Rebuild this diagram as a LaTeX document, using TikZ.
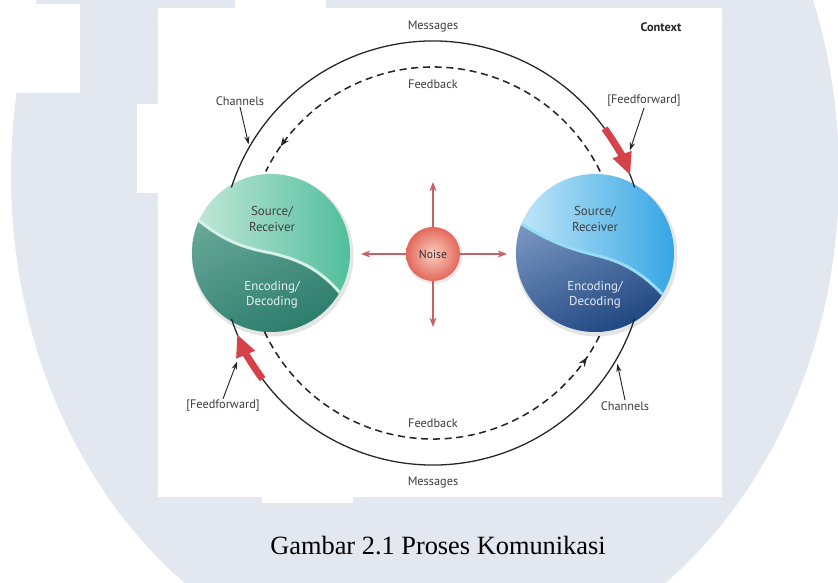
\documentclass[tikz,border=0pt]{standalone}
\usepackage{fontspec}
\setmainfont{Liberation Serif}
\newfontfamily\lblfont{PT Sans}
\usetikzlibrary{arrows.meta,decorations.markings,positioning}

\definecolor{wmgray}{RGB}{227,231,240}
\definecolor{lbltext}{RGB}{60,60,60}
\definecolor{ffred}{RGB}{214,66,74}
\definecolor{noisered}{RGB}{200,96,102}
\definecolor{noiselite}{RGB}{252,206,192}
\definecolor{noisedark}{RGB}{226,104,90}
% green sphere
\definecolor{gnupa}{RGB}{196,232,218}
\definecolor{gnupb}{RGB}{80,190,155}
\definecolor{gnloa}{RGB}{104,168,152}
\definecolor{gnlob}{RGB}{38,120,104}
\definecolor{gnband}{RGB}{214,242,232}
% blue sphere
\definecolor{blupa}{RGB}{196,232,249}
\definecolor{blupb}{RGB}{52,166,228}
\definecolor{bloa}{RGB}{118,148,190}
\definecolor{blob}{RGB}{22,62,122}
\definecolor{blband}{RGB}{150,220,245}

\tikzset{
  lbl/.style={font=\lblfont\fontsize{10.5}{12}\selectfont, text=lbltext, inner sep=1pt},
  ctx/.style={font=\lblfont\bfseries\fontsize{10.5}{12}\selectfont, text=black!85, inner sep=1pt},
  spheretxt/.style={font=\lblfont\fontsize{11}{13}\selectfont, align=center, inner sep=1pt},
  msgline/.style={line width=1.1pt, black!85},
  fbline/.style={line width=1.3pt, black!85, dash pattern=on 6pt off 4pt,
    postaction={decorate}, decoration={markings,
      mark=at position 0.93 with {\arrow{Stealth[length=8pt,width=6pt]}}}},
  ffarrow/.style={line width=6pt, ffred, -{Triangle[length=19pt,width=16pt]}},
  ptr/.style={line width=0.8pt, black!85, -{Stealth[length=7pt,width=4.5pt]}},
  noisearrow/.style={line width=0.9pt, noisered, -{Stealth[length=8pt,width=6pt]}},
}

\begin{document}
\begin{tikzpicture}[x=0.03cm, y=0.03cm]
% page, watermark and the white picture area
\useasboundingbox (0,0) rectangle (838,582);
\begin{scope}
  \clip (0,0) rectangle (838,582);
  \fill[white] (0,0) rectangle (838,582);
  \fill[wmgray] (425,407) ellipse[x radius=414, y radius=501];
  \fill[white] (0,489) rectangle (80,578);
  \fill[white] (235,574) rectangle (326,582);
  \fill[white] (137,389) rectangle (158,478);
  \fill[white] (262,79) rectangle (353,85);
  \fill[white] (158,85) rectangle (722,574);
\end{scope}

\coordinate (O) at (433,329);

% left sphere
\begin{scope}[shift={(271,329)}]
  \fill[black, opacity=.10] (1.5,-2.5) circle[radius=81];
  \begin{scope}
    \clip (0,0) circle[radius=79];
    \shade[left color=gnupa, right color=gnupb] (-80,-80) rectangle (80,80);
    \shade[top color=gnloa, bottom color=gnlob, shading angle=25] (-90,48) .. controls (-50,10) and (-25,5) .. (0,0) .. controls (25,-6) and (55,-15) .. (82,-58) -- (90,-90) -- (-90,-90) -- cycle;
    \draw[gnband, line width=2.5pt] (-90,48) .. controls (-50,10) and (-25,5) .. (0,0) .. controls (25,-6) and (55,-15) .. (82,-58);
  \end{scope}
\end{scope}
\node[circle, minimum size=4.74cm] (lsph) at (271,329) {};

% right sphere
\begin{scope}[shift={(595,329)}]
  \fill[black, opacity=.10] (1.5,-2.5) circle[radius=81];
  \begin{scope}
    \clip (0,0) circle[radius=79];
    \shade[left color=blupa, right color=blupb] (-80,-80) rectangle (80,80);
    \shade[top color=bloa, bottom color=blob, shading angle=25] (-90,40) .. controls (-50,12) and (-25,4) .. (0,-2) .. controls (25,-8) and (50,-18) .. (80,-56) -- (90,-90) -- (-90,-90) -- cycle;
    \draw[blband, line width=2.5pt] (-90,40) .. controls (-50,12) and (-25,4) .. (0,-2) .. controls (25,-8) and (50,-18) .. (80,-56);
  \end{scope}
\end{scope}
\node[circle, minimum size=4.74cm] (rsph) at (595,329) {};

\node[spheretxt, text=black!75] (lsrc) at (272,363) {Source/\\Receiver};
\node[spheretxt, text=white!85!gnloa] (lenc) at (272,287) {Encoding/\\Decoding};
\node[spheretxt, text=black!75] (rsrc) at (595,363) {Source/\\Receiver};
\node[spheretxt, text=white!80!bloa] (renc) at (595,287) {Encoding/\\Decoding};

% noise and its arrows
\fill[black, opacity=.08] (434,326.5) circle[radius=28.5];
\node[circle, inner color=noiselite, outer color=noisedark, minimum size=1.62cm, inner sep=0pt,
  font=\lblfont\fontsize{10}{12}\selectfont, text=black!80] (noise) at (433,328) {Noise};
\coordinate (nup) at (433,400);
\coordinate (ndown) at (433,255);
\coordinate (nleft) at (361,328);
\coordinate (nright) at (507,328);
\draw[noisearrow] (noise.north) -- (nup);
\draw[noisearrow] (noise.south) -- (ndown);
\draw[noisearrow] (noise.west) -- (nleft);
\draw[noisearrow] (noise.east) -- (nright);

% messages and feedback
\draw[msgline] ([shift={(162:212)}]O) arc[start angle=162, end angle=18, radius=212];
\draw[msgline] ([shift={(198:212)}]O) arc[start angle=198, end angle=342, radius=212];
\draw[fbline] ([shift={(26:186)}]O) arc[start angle=26, end angle=154, radius=186];
\draw[fbline] ([shift={(205:186)}]O) arc[start angle=205, end angle=335, radius=186];

% feedforward
\draw[ffarrow] ([shift={(36:212)}]O) arc[start angle=36, end angle=21.5, radius=212];
\draw[ffarrow] ([shift={(216.5:212)}]O) arc[start angle=216.5, end angle=202.5, radius=212];

% labels
\node[lbl] (msgtop) at (433,555) {Messages};
\node[ctx] (ctx) at (661,555) {Context};
\node[lbl] (fbtop) at (433,498) {Feedback};
\node[lbl] (chtl) at (240,481) {Channels};
\node[lbl] (fftr) at (644,481) {[Feedforward]};
\node[lbl] (ffbl) at (223,176) {[Feedforward]};
\node[lbl] (chbr) at (625,176) {Channels};
\node[lbl] (fbbot) at (433,159) {Feedback};
\node[lbl] (msgbot) at (433,100) {Messages};

\coordinate (chtlpt) at ([shift={(149.5:214)}]O);
\coordinate (fftrpt) at ([shift={(27.5:222)}]O);
\coordinate (ffblpt) at ([shift={(209:224)}]O);
\coordinate (chbrpt) at ([shift={(-31:215)}]O);
\draw[ptr] (chtl.south) -- (chtlpt);
\draw[ptr] (fftr.south) -- (fftrpt);
\draw[ptr] (ffbl.north) -- (ffblpt);
\draw[ptr] (chbr.north) -- (chbrpt);

% caption
\node[font=\fontsize{22.5}{26}\selectfont] (caption) at (438,36) {Gambar 2.1 Proses Komunikasi};
\end{tikzpicture}
\end{document}
